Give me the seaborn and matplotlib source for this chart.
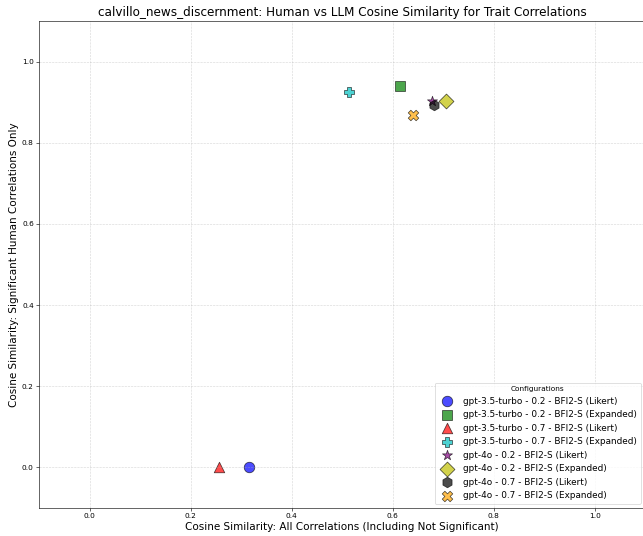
import numpy as np
import pandas as pd
import seaborn as sns
import matplotlib.pyplot as plt

# Конфигурации и значения косинусного сходства
configs = [
    "gpt-3.5-turbo - 0.2 - BFI2-S (Likert)",
    "gpt-3.5-turbo - 0.2 - BFI2-S (Expanded)",
    "gpt-3.5-turbo - 0.7 - BFI2-S (Likert)",
    "gpt-3.5-turbo - 0.7 - BFI2-S (Expanded)",
    "gpt-4o - 0.2 - BFI2-S (Likert)",
    "gpt-4o - 0.2 - BFI2-S (Expanded)",
    "gpt-4o - 0.7 - BFI2-S (Likert)",
    "gpt-4o - 0.7 - BFI2-S (Expanded)",
]
all_corr = [0.316, 0.615, 0.257, 0.514, 0.678, 0.706, 0.681, 0.641]
sig_corr = [0.000, 0.940, 0.000, 0.924, 0.904, 0.903, 0.893, 0.869]

colors = ["blue", "green", "red", "c", "purple", "y", "k", "orange"]
markers = ["o", "s", "^", "P", "*", "D", "h", "X"]

data = pd.DataFrame({"config": configs, "all": all_corr, "sig": sig_corr})

fig = plt.figure(figsize=(12, 10), dpi=53.6)
ax = fig.add_axes([39 / 643, 1 - 509 / 537, 606 / 643, 488 / 537])

for i, row in data.iterrows():
    sns.scatterplot(x=[row["all"]], y=[row["sig"]], ax=ax, color=colors[i],
                    marker=markers[i], s=200, alpha=0.7, edgecolor="black",
                    linewidth=1, label=row["config"])

ax.set_xlim(-0.1, 1.1)
ax.set_ylim(-0.1, 1.1)
ax.grid(True, linestyle="--", alpha=0.5)
ax.set_xlabel("Cosine Similarity: All Correlations (Including Not Significant)", fontsize=14)
ax.set_ylabel("Cosine Similarity: Significant Human Correlations Only", fontsize=14)
ax.set_title("calvillo_news_discernment: Human vs LLM Cosine Similarity for Trait Correlations",
             fontsize=16.2)
ax.legend(title="Configurations", loc="lower right", fontsize=12, title_fontsize=10)

fig.savefig("out.png", dpi=53.6)
